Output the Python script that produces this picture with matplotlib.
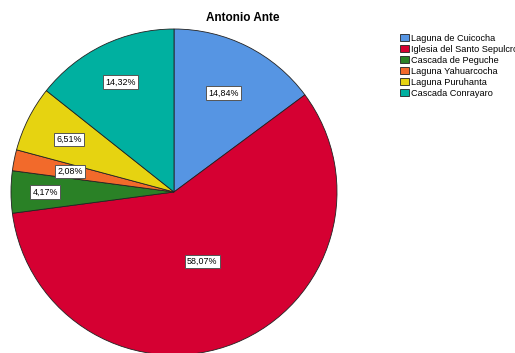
import numpy as np
import matplotlib.pyplot as plt

# Antonio Ante - tourist sites
sites = ['Laguna de Cuicocha', 'Iglesia del Santo Sepulcro', 'Cascada de Peguche',
         'Laguna Yahuarcocha', 'Laguna Puruhanta', 'Cascada Conrayaro']
pct = [14.84, 58.07, 4.17, 2.08, 6.51, 14.32]
pct_labels = ['14,84%', '58,07%', '4,17%', '2,08%', '6,51%', '14,32%']

colors = ['#5695E3', '#D50032', '#2A8126', '#F26A2B', '#E6D311', '#00B0A0']
label_r = [0.68, 0.46, 0.79, 0.65, 0.72, 0.75]

fig = plt.figure(figsize=(5.15, 3.53), dpi=100)
cx, cy, r = 174, 192, 163
ax = fig.add_axes([(cx - r) / 515, (353 - cy - r) / 353, 2 * r / 515, 2 * r / 353])

wedges, _ = ax.pie(pct, colors=colors, startangle=90, counterclock=False,
                   wedgeprops=dict(edgecolor='#222222', linewidth=0.6))
ax.set_xlim(-1, 1)
ax.set_ylim(-1, 1)
ax.set_aspect('auto')

for w, lab, lr in zip(wedges, pct_labels, label_r):
    ang = np.deg2rad((w.theta1 + w.theta2) / 2)
    ax.text(lr * np.cos(ang), lr * np.sin(ang), lab, ha='center', va='center',
            fontsize=6.4, family='Liberation Sans',
            bbox=dict(boxstyle='square,pad=0.25', fc='white', ec='#555555', lw=0.7))

fig.text(243 / 515, 1 - 18 / 353, 'Antonio Ante', ha='center', va='center',
         fontsize=8.5, fontweight='bold', family='Liberation Sans')

leg = fig.legend(wedges, sites, loc='upper left', bbox_to_anchor=(395 / 515, 1 - 29 / 353),
                 frameon=False, handlelength=1.0, handleheight=0.9,
                 handletextpad=0.25, labelspacing=0.22, borderpad=0,
                 prop=dict(family='Liberation Sans', size=6.6))

fig.savefig('out.png', dpi=100)
